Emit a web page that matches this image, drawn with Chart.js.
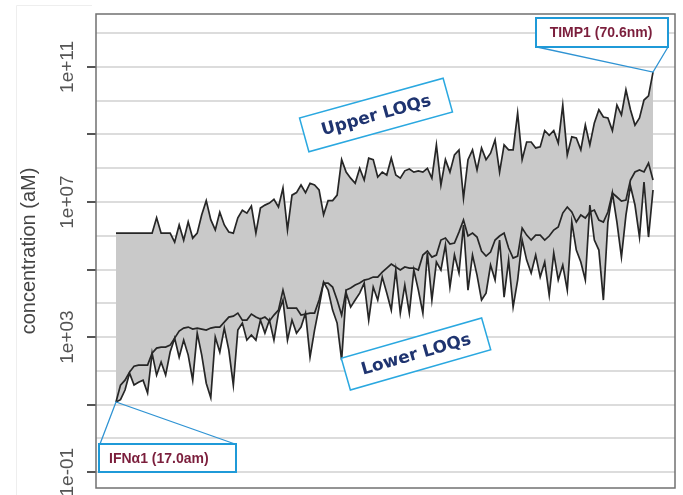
<!DOCTYPE html>
<html>
<head>
<meta charset="utf-8">
<script src="https://cdn.jsdelivr.net/npm/chart.js@4"></script>
<style>
  html, body { margin: 0; padding: 0; background: #fff; }
  #wrap { width: 683px; height: 495px; position: relative; }
</style>
</head>
<body>
<div id="wrap"><canvas id="chart"></canvas></div>
<script>
// concentrations in aM, one point per analyte (sorted)
var upperLOQ = [
  1.2e6, 1.2e6, 1.2e6, 1.2e6, 1.2e6, 1.2e6, 1.2e6, 1.2e6, 1.2e6, 3.4e6,
  1.2e6, 1.2e6, 1.2e6, 6.5e5, 2.1e6, 7.4e5, 2.6e6, 8.5e5, 1.2e6, 4.2e6,
  1.1e7, 3e6, 1.5e6, 5e6, 2.1e6, 1.3e6, 1.2e6, 3.4e6, 5.7e6, 4.7e6,
  7.6e6, 1.2e6, 6.6e6, 8.1e6, 9.3e6, 1.2e7, 7.1e6, 2.6e7, 1.5e6, 1.6e7,
  1.9e7, 3.2e7, 1.9e7, 3.6e7, 3.2e7, 2.3e7, 4.2e6, 1.1e7, 1.1e7, 1.6e7,
  1.8e8, 7.7e7, 5.1e7, 3.6e7, 1e8, 4.5e7, 2e8, 1.8e8, 5.5e7, 7.7e7,
  6.3e7, 2e8, 6.3e7, 5.1e7, 8.4e7, 9.5e7, 7.7e7, 8.4e7, 7.7e7, 1e8,
  5.1e7, 4.9e8, 3.2e7, 1.8e8, 7.7e7, 2.5e8, 3.5e8, 1.3e7, 1.8e8, 3.5e8,
  8.9e7, 4e8, 1.8e8, 2.8e8, 6.9e8, 7.7e7, 4.9e8, 3.5e8, 3.5e8, 4.3e9,
  1.8e8, 6e8, 6e8, 4e8, 4.3e8, 1.3e9, 9.5e8, 1.3e9, 5.6e8, 7.4e9,
  2.5e8, 8.5e8, 7.9e8, 3.5e8, 1.9e9, 4.9e8, 2.2e9, 5.4e9, 3.3e9, 3.1e9,
  1.3e9, 7.4e9, 3.8e9, 2.1e10, 5.4e9, 1.9e9, 3.1e9, 1.05e10, 1.4e10, 7.06e10
];
var lowerLOQ1 = [
  12, 38, 53, 92, 138, 148, 148, 148, 336, 472,
  506, 506, 580, 933, 1510, 1850, 1980, 1730, 1850, 1730,
  1610, 1850, 1980, 1980, 2780, 3920, 4190, 5140, 3190, 3190,
  4800, 3920, 3410, 3920, 2980, 4490, 6310, 24700, 7230, 7230,
  7230, 4490, 4800, 5140, 5140, 12500, 39800, 39800, 30300, 12500,
  4490, 24700, 28300, 34700, 39800, 48900, 52400, 60000, 60000, 84300,
  1.11e5, 1.46e5, 1.19e5, 96600, 1.19e5, 1.11e5, 1.11e5, 96600, 2.69e5, 3.53e5,
  2.34e5, 2.69e5, 7.48e5, 8.57e5, 5.69e5, 6.1e5, 1.29e6, 2.93e6, 9.84e5, 1.2e6,
  9.18e5, 3.53e5, 2.51e5, 3.3e5, 7.48e5, 9.84e5, 1.2e6, 4.34e5, 2.19e5, 2.51e5,
  1.7e6, 1.05e6, 7.48e5, 1.05e6, 1.05e6, 7.48e5, 9.84e5, 1.48e6, 1.82e6, 4.72e6,
  7.11e6, 5.06e6, 2.55e6, 4.12e6, 3.36e6, 5.06e6, 5.79e6, 2.93e6, 2.55e6, 5.06e6,
  1.85e7, 1.41e7, 1.07e7, 1.15e7, 4.49e7, 7.75e7, 8.88e7, 7.75e7, 1.43e8, 4.49e7
];
var lowerLOQ2 = [
  12, 14, 27, 86, 38, 46, 53, 22, 336, 75,
  182, 75, 360, 933, 255, 815, 293, 53, 1310, 293,
  43, 16, 1000, 360, 1850, 412, 38, 1610, 2600, 815,
  1150, 815, 3190, 1310, 3190, 815, 5140, 12500, 815, 3190,
  1310, 1980, 5140, 255, 1610, 7740, 42700, 24700, 6310, 2600,
  208, 20100, 7740, 12500, 20100, 39800, 3190, 30300, 12500, 60000,
  20100, 6310, 96600, 5140, 34700, 5140, 96600, 24700, 5140, 3.08e5,
  12500, 1.67e5, 96600, 5.32e5, 30300, 2.69e5, 78700, 2.08e6, 24700, 2.69e5,
  68700, 12500, 20100, 1.36e5, 48900, 7.48e5, 15300, 1.91e5, 7740, 48900,
  7.48e5, 1.91e5, 78700, 2.69e5, 60000, 1.67e5, 17500, 3.08e5, 48900, 1.36e5,
  24700, 2.55e6, 3.78e5, 1.67e5, 48900, 8.15e6, 7.48e5, 3.78e5, 12500, 2.55e6,
  1.85e7, 2.55e6, 2.34e5, 4.12e6, 2.98e7, 8.15e6, 9.18e5, 3.92e7, 9.18e5, 2.27e7
];
var tickValues = [0.1, 1e3, 1e7, 1e11];
var tickLabels = ['1e-01', '1e+03', '1e+07', '1e+11'];
var firstLabel = 'IFN\u03b11 (17.0am)';
var lastLabel = 'TIMP1 (70.6nm)';

function toPoints(arr) {
  return arr.map(function(v, i) { return { x: i, y: v }; });
}

var lineColor = '#262626';
var calloutBlue = '#2aa8e0';

var labelsPlugin = {
  id: 'labels',
  beforeDraw: function(chart) {
    var ctx = chart.ctx;
    // faint outer frame of the original figure
    ctx.save();
    ctx.strokeStyle = '#eeeeee';
    ctx.lineWidth = 1;
    ctx.beginPath();
    ctx.moveTo(16.5, 495); ctx.lineTo(16.5, 5.5); ctx.lineTo(92, 5.5);
    ctx.stroke();
    ctx.restore();
  },
  afterDraw: function(chart) {
    var ctx = chart.ctx, a = chart.chartArea, ys = chart.scales.y, xs = chart.scales.x;
    ctx.save();
    // plot frame
    ctx.strokeStyle = '#707070';
    ctx.lineWidth = 1.5;
    ctx.strokeRect(a.left, a.top, a.right - a.left, a.bottom - a.top);

    // rotated tick labels
    ctx.fillStyle = '#555';
    ctx.font = '19px "Liberation Sans", Arial, sans-serif';
    ctx.textAlign = 'center';
    ctx.textBaseline = 'middle';
    tickValues.forEach(function(v, i) {
      var py = ys.getPixelForValue(v);
      ctx.save();
      ctx.translate(68, py);
      ctx.rotate(-Math.PI / 2);
      ctx.fillText(tickLabels[i], 0, 0);
      ctx.restore();
    });

    // rotated callouts
    function tag(cx, cy, w, h, deg, text) {
      ctx.save();
      ctx.translate(cx, cy);
      ctx.rotate(deg * Math.PI / 180);
      ctx.fillStyle = '#fff';
      ctx.fillRect(-w / 2, -h / 2, w, h);
      ctx.strokeStyle = calloutBlue;
      ctx.lineWidth = 1.5;
      ctx.strokeRect(-w / 2, -h / 2, w, h);
      ctx.fillStyle = '#1f3470';
      ctx.font = 'bold 17px "DejaVu Sans", sans-serif';
      ctx.textAlign = 'center';
      ctx.textBaseline = 'middle';
      ctx.fillText(text, 0, 1);
      ctx.restore();
    }
    tag(376, 115, 149, 35, -15.5, 'Upper LOQs');
    tag(416, 354, 146, 33, -16, 'Lower LOQs');

    // pointer callouts for first and last analyte
    function pointer(x1, y1, x2, y2, tx, ty) {
      ctx.strokeStyle = '#2f93d3';
      ctx.lineWidth = 1.3;
      ctx.beginPath();
      ctx.moveTo(x1, y1); ctx.lineTo(tx, ty); ctx.lineTo(x2, y2);
      ctx.stroke();
    }
    var fx = xs.getPixelForValue(0), fy = ys.getPixelForValue(lowerLOQ1[0]);
    var lx = xs.getPixelForValue(upperLOQ.length - 1), ly = ys.getPixelForValue(upperLOQ[upperLOQ.length - 1]);
    pointer(100, 444, 235, 444, fx, fy);
    pointer(537, 47, 668, 47, lx, ly);

    ctx.fillStyle = '#fff';
    ctx.strokeStyle = '#1f9ad8';
    ctx.lineWidth = 2;
    ctx.fillRect(99, 444, 137, 28);
    ctx.strokeRect(99, 444, 137, 28);
    ctx.fillRect(536, 18, 132, 29);
    ctx.strokeRect(536, 18, 132, 29);

    ctx.fillStyle = '#7b1e3c';
    ctx.font = 'bold 14px "Liberation Sans", Arial, sans-serif';
    ctx.textAlign = 'left';
    ctx.textBaseline = 'middle';
    ctx.fillText(firstLabel, 109, 459);
    ctx.textAlign = 'center';
    ctx.fillText(lastLabel, 601, 33);
    ctx.restore();
  }
};

new Chart(document.getElementById('chart'), {
  type: 'line',
  data: {
    datasets: [
      {
        label: 'Upper LOQ',
        data: toPoints(upperLOQ),
        borderColor: lineColor,
        borderWidth: 1.7,
        backgroundColor: '#c9c9c9',
        fill: { target: 2 },
        pointRadius: 0,
        tension: 0
      },
      {
        label: 'Lower LOQ 1',
        data: toPoints(lowerLOQ1),
        borderColor: lineColor,
        borderWidth: 1.7,
        fill: false,
        pointRadius: 0,
        tension: 0
      },
      {
        label: 'Lower LOQ 2',
        data: toPoints(lowerLOQ2),
        borderColor: lineColor,
        borderWidth: 1.7,
        fill: false,
        pointRadius: 0,
        tension: 0
      }
    ]
  },
  options: {
    responsive: true,
    maintainAspectRatio: false,
    animation: false,
    devicePixelRatio: 1,
    layout: { padding: { left: 0, top: 14, right: 8, bottom: 7 } },
    plugins: {
      legend: { display: false },
      tooltip: { enabled: false },
      filler: { drawTime: 'beforeDatasetsDraw' }
    },
    scales: {
      x: {
        type: 'linear',
        min: -4.43,
        max: 123.87,
        display: false
      },
      y: {
        type: 'logarithmic',
        bounds: 'data',
        min: 0.034,
        max: 3.7e12,
        afterBuildTicks: function(scale) {
          var t = [];
          for (var k = -1; k <= 12; k++) t.push({ value: Math.pow(10, k) });
          scale.ticks = t;
        },
        afterFit: function(scale) { scale.width = 96; },
        border: { display: false },
        grid: {
          color: '#dcdcdc',
          lineWidth: 2,
          drawTicks: true,
          tickLength: 9,
          tickWidth: 2,
          tickColor: function(c) {
            var e = Math.round(Math.log10(c.tick.value));
            return (e % 2 !== 0) ? '#555' : 'rgba(0,0,0,0)';
          }
        },
        ticks: { display: false },
        title: {
          display: true,
          text: 'concentration (aM)',
          color: '#444',
          font: { family: '"Liberation Sans", Arial, sans-serif', size: 20 },
          padding: { top: 17 }
        }
      }
    }
  },
  plugins: [labelsPlugin]
});
</script>
</body>
</html>
